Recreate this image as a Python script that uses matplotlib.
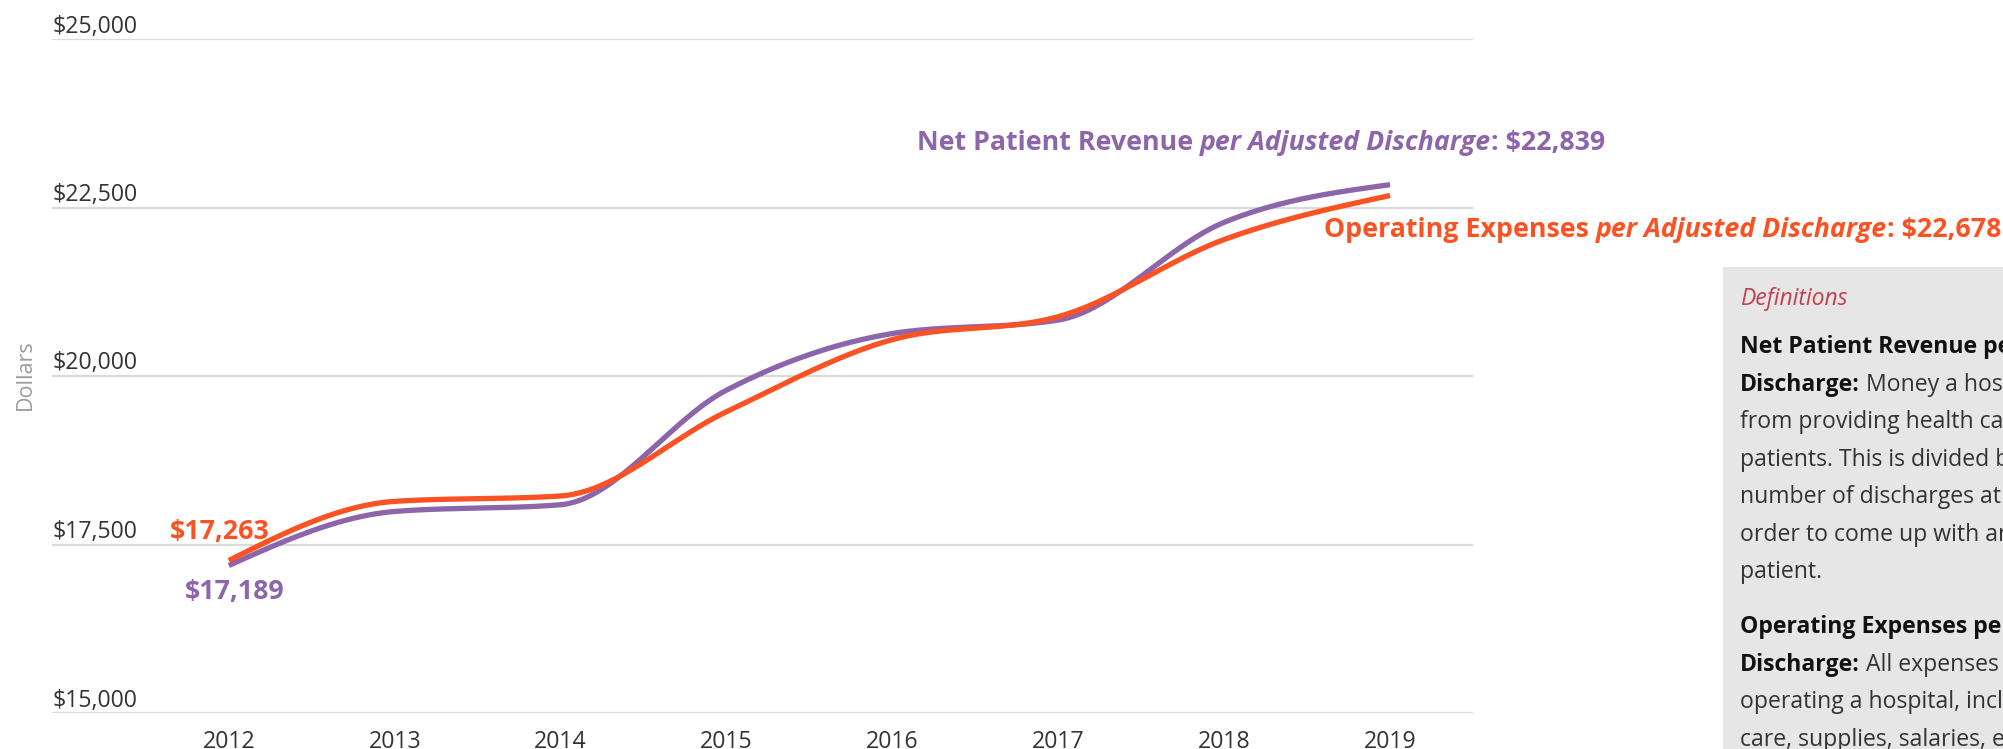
import numpy as np
import matplotlib
matplotlib.use("Agg")
import matplotlib.pyplot as plt
from matplotlib.transforms import blended_transform_factory
from matplotlib.patches import Rectangle

plt.rcParams['font.family'] = ['Open Sans', 'DejaVu Sans']

# ---------------- data ----------------
years = [2012, 2013, 2014, 2015, 2016, 2017, 2018, 2019]
revenue = [17189, 17990, 18090, 19790, 20630, 20830, 22280, 22839]   # Net patient revenue per adjusted discharge
expenses = [17263, 18140, 18220, 19470, 20540, 20880, 22025, 22678]  # Operating expenses per adjusted discharge
y_ticks = [15000, 17500, 20000, 22500, 25000]
y_tick_labels = ["$15,000", "$17,500", "$20,000", "$22,500", "$25,000"]
x_tick_labels = [str(y) for y in years]

PURPLE = "#8d65ab"
ORANGE = "#fb5224"
TEXT = "#333333"
GRID = "#dadada"

W, H = 2003, 749
fig = plt.figure(figsize=(W / 100, H / 100), dpi=100)
ax = fig.add_axes([52 / W, 1 - 713 / H, (1473 - 52) / W, (713 - 39) / H])


def monotone_x(x, y, n=60):
    """d3.curveMonotoneX style rendering of a line through the points."""
    x = np.asarray(x, float)
    y = np.asarray(y, float)
    h = np.diff(x)
    s = np.diff(y) / h
    m = np.zeros_like(y)
    for i in range(1, len(x) - 1):
        p = (s[i - 1] * h[i] + s[i] * h[i - 1]) / (h[i - 1] + h[i])
        m[i] = (np.sign(s[i - 1]) + np.sign(s[i])) * min(abs(s[i - 1]), abs(s[i]), 0.5 * abs(p))
    m[0] = (3 * s[0] - m[1]) / 2
    m[-1] = (3 * s[-1] - m[-2]) / 2
    xs, ys = [], []
    for i in range(len(x) - 1):
        t = np.linspace(0, 1, n, endpoint=(i == len(x) - 2))
        h00 = 2 * t**3 - 3 * t**2 + 1
        h10 = t**3 - 2 * t**2 + t
        h01 = -2 * t**3 + 3 * t**2
        h11 = t**3 - t**2
        xs.append(x[i] + t * h[i])
        ys.append(h00 * y[i] + h10 * h[i] * m[i] + h01 * y[i + 1] + h11 * h[i] * m[i + 1])
    return np.concatenate(xs), np.concatenate(ys)


ax.set_xlim(2010.934, 2019.5)
ax.set_ylim(15000, 25000)

# gridlines
for v in y_ticks:
    ax.axhline(v, color=GRID, lw=1.6, zorder=1)

# lines
rx, ry = monotone_x(years, revenue)
ex, ey = monotone_x(years, expenses)
ax.plot(rx, ry, color=PURPLE, lw=3.8, solid_capstyle='butt', zorder=3)
ax.plot(ex, ey, color=ORANGE, lw=3.8, solid_capstyle='butt', zorder=4)

for s in ax.spines.values():
    s.set_visible(False)
ax.set_yticks([])
ax.set_xticks(years)
ax.set_xticklabels(x_tick_labels, fontsize=16.7, color=TEXT)
ax.tick_params(axis='x', length=0, pad=12)
ax.set_facecolor('none')

# y tick labels sit above gridlines
trans = blended_transform_factory(ax.transAxes, ax.transData)
for v, lab in zip(y_ticks, y_tick_labels):
    ax.annotate(lab, xy=(0, v), xycoords=trans, xytext=(0, 6.5), textcoords='offset pixels',
                ha='left', va='baseline', fontsize=16.7, color=TEXT, annotation_clip=False)

fig.text(25 / W, 1 - 375 / H, "Dollars", rotation=90, ha='center', va='center',
         fontsize=15.5, color="#9b9b9b")

# ------------- value labels -------------
LBL = 19.3
ax.annotate(f"${expenses[0]:,}", xy=(years[0], expenses[0]), xytext=(-59, 21), textcoords='offset pixels',
            ha='left', va='baseline', fontsize=LBL, fontweight='bold', color=ORANGE, zorder=5)
ax.annotate(f"${revenue[0]:,}", xy=(years[0], revenue[0]), xytext=(-44, -34), textcoords='offset pixels',
            ha='left', va='baseline', fontsize=LBL, fontweight='bold', color=PURPLE, zorder=5)


def rich_label(xy, offset, parts, color):
    prev = None
    for txt, style in parts:
        kw = dict(fontsize=LBL, fontweight='bold', color=color, fontstyle=style,
                  annotation_clip=False, zorder=5)
        if prev is None:
            prev = ax.annotate(txt, xy=xy, xytext=offset, textcoords='offset pixels',
                               ha='left', va='baseline', **kw)
        else:
            prev = ax.annotate(txt, xy=(1, 0), xycoords=prev, ha='left', va='bottom', **kw)
    return prev


rich_label((years[-1], revenue[-1]), (-473, 35),
           [("Net Patient Revenue ", 'normal'), ("per Adjusted Discharge", 'italic'),
            (f": ${revenue[-1]:,}", 'normal')], PURPLE)
rich_label((years[-1], expenses[-1]), (-66, -41),
           [("Operating Expenses ", 'normal'), ("per Adjusted Discharge", 'italic'),
            (f": ${expenses[-1]:,}", 'normal')], ORANGE)

# ------------- definitions box -------------
fig.patches.append(Rectangle((1723 / W, 0), 1 - 1723 / W, (H - 267) / H,
                             transform=fig.transFigure, facecolor="#e6e6e6", edgecolor='none', zorder=0))

fig.text(1740 / W, 1 - 305 / H, "Definitions", fontsize=16.5, fontstyle='italic', color="#c4404a",
         ha='left', va='baseline')

BODY = 16.6
def_lines = [
    (353.3, [("Net Patient Revenue per Adjusted", 'bold')]),
    (390.8, [("Discharge:", 'bold'), (" Money a hospital earns", 'normal')]),
    (428.3, [("from providing health care to", 'normal')]),
    (465.8, [("patients. This is divided by the", 'normal')]),
    (503.3, [("number of discharges at the hospital in", 'normal')]),
    (540.8, [("order to come up with an amount per", 'normal')]),
    (578.3, [("patient.", 'normal')]),
    (633.3, [("Operating Expenses per Adjusted", 'bold')]),
    (670.8, [("Discharge:", 'bold'), (" All expenses associated with", 'normal')]),
    (708.3, [("operating a hospital, including patient", 'normal')]),
    (745.8, [("care, supplies, salaries, etc.", 'normal')]),
]
for yb, parts in def_lines:
    prev = None
    for txt, w in parts:
        col = "#111111" if w == 'bold' else "#333333"
        if prev is None:
            prev = fig.text(1740 / W, 1 - yb / H, txt, fontsize=BODY, fontweight=w, color=col,
                            ha='left', va='baseline')
        else:
            prev = fig.add_artist(plt.Annotation(txt, xy=(1, 0), xycoords=prev, ha='left', va='bottom',
                                                 fontsize=BODY, fontweight=w, color=col))

fig.savefig("out.png", dpi=100, facecolor='white')
